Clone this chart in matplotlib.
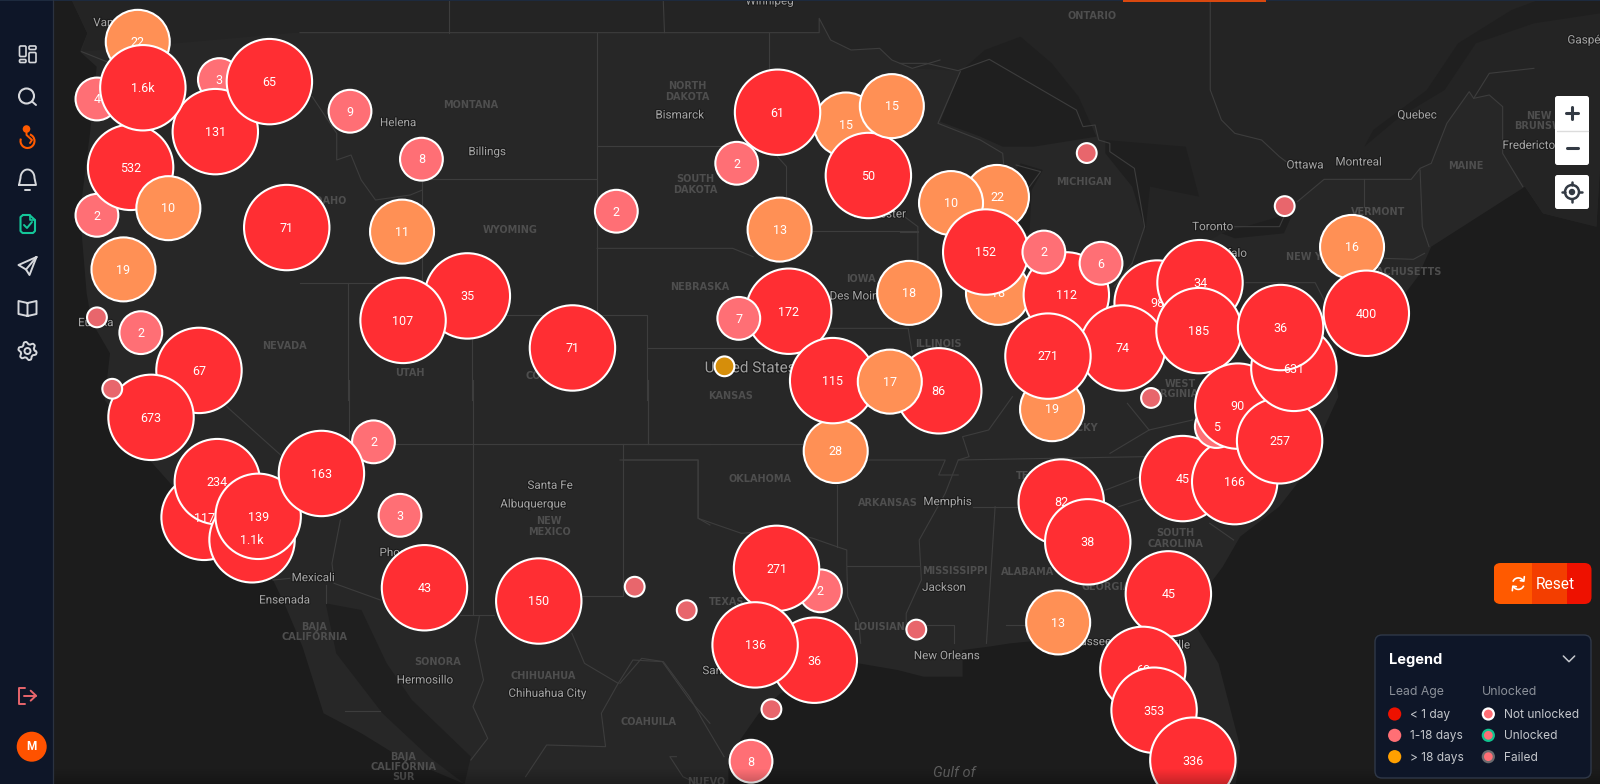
import numpy as np
import matplotlib
matplotlib.use("Agg")
import matplotlib.pyplot as plt
from matplotlib.patches import Circle, Polygon, Rectangle, FancyBboxPatch, Arc
import matplotlib.patheffects as pe

W, H = 1600, 784
S = 1600 / 1568

# ---------- cluster data, bottom to top (x, y are map positions on the reference screen) ----------
cluster_counts = [
    "22","4","3","2","532","10","131","1.6k","65","19","71","9","8","11","35","107","71",
    "","2","67","673","","2","117","234","1.1k","139","163","3","43","150","2",
    "2","15","61","50","15","13","172","7","18","28","86","115","17","",
    "18","22","10","112","152","2","6","19","98","34","74","271","185",
    "45","166","5","90","257","631","36","16","400",
    "82","38","13","45","60","353","336","8",
    "2","36","271","136","","","","","","","",
]
cluster_x = [
    135,95,215,95,128,165,211,140,264,121,281,343,413,394,458,395,561,
    95,138,195,148,110,366,200,213,247,253,315,392,416,528,604,
    722,829,762,851,874,764,773,724,891,819,920,816,872,710,
    978,977,932,1045,966,1023,1079,1031,1134,1176,1100,1027,1175,
    1159,1210,1192,1213,1254,1268,1255,1325,1339,
    1040,1066,1037,1145,1120,1131,1169,736,
    804,798,761,740,622,673,898,756,1065,1259,1128,
]
cluster_y = [
    41,97,78,211,164,204,129,86,80,264,223,109,156,227,290,314,341,
    311,326,363,409,381,433,507,472,529,506,464,505,576,589,207,
    160,122,110,172,104,225,305,312,287,442,383,373,374,359,
    287,193,199,289,247,247,258,401,297,277,341,349,324,
    469,472,418,398,432,361,321,242,307,
    492,531,610,582,656,696,745,746,
    579,647,557,632,575,598,617,695,150,202,390,
]
cluster_age = [
    "o","p","p","p","r","o","r","r","r","o","r","p","p","o","r","r","r",
    "t","p","r","r","t","p","r","r","r","r","r","p","r","r","p",
    "p","o","r","r","o","o","r","p","o","o","r","r","o","g",
    "o","o","o","r","r","p","p","o","r","r","r","r","r",
    "r","r","p","r","r","r","r","o","r",
    "r","r","o","r","r","r","r","p",
    "p","r","r","r","t","t","t","t","t","t","t",
]
# labels the reference paints above the next disc in the stack
lifted_labels = ["5", "117", "1.1k", "631"]
age_names = ["< 1 day", "1-18 days", "> 18 days"]
unlock_names = ["Not unlocked", "Unlocked", "Failed"]

AGE_STYLE = {
    "r": ("#ff2e33", 42.7),
    "o": ("#ff9055", 32.0),
    "p": ("#ff6f75", 21.4),
    "t": ("#e8666c", 9.9),
    "g": ("#d68e0a", 9.9),
}

FRAMES = {
    "z2": (0, 0, 3.0), "z3": (1000, 230, 3.0), "z4": (300, 0, 2.45), "z5": (900, 0, 2.24),
    "z6": (50, 380, 2.376), "z7": (620, 380, 2.306), "o": (0, 0, 1 / S),
}
def Z(frame, pts):
    ox, oy, sx = FRAMES[frame]
    sy = 3.0 if frame != "o" else 1 / S
    return [(ox + x / sx, oy + y / sy) for x, y in pts]

LAND = "#272727"; CANADA = "#242424"; WATER = "#1c1c1c"; LAKE = "#1f1f1f"; LINE = "#3d3d3d"; SIDE = "#0e1628"

fig = plt.figure(figsize=(W / 100, H / 100), dpi=100, facecolor=WATER)
ax = fig.add_axes([0, 0, 1, 1])
ax.set_xlim(0, W); ax.set_ylim(H, 0); ax.axis("off")

# ---------- map base ----------
land = (Z("z2", [(215,0),(262,100),(240,155),(290,200),(270,400),(240,640),(260,880),(275,965),(330,1060)])
        + Z("z6", [(130,60),(240,245),(300,330),(380,480),(530,600),(560,680),(600,800),(650,1000),(740,1060),(830,1130),(985,1212)])
        + Z("z7", [(250,1212),(250,1130),(320,1000),(370,940),(480,880),(550,850),(640,870),(700,890),(790,890),(790,810),(850,800),(900,790),(1060,770),(1110,800),(1130,900),(1210,1080),(1320,1212),(1420,1212),(1430,1100),(1380,850),(1310,700),(1390,560),(1430,470),(1520,380),(1568,300)])
        + Z("z3", [(1015,500),(1000,400),(1015,350),(1080,370)])
        + Z("z5", [(1160,830),(1190,740),(1260,680),(1400,560),(1440,640),(1560,680),(1568,500)])
        + [(1600, 180), (1600, 0)])
ax.add_patch(Polygon(land, closed=True, fc=LAND, ec="none", zorder=1))

canada = (Z("z2", [(215,0),(262,100),(245,155)]) + Z("z4", [(-10,98),(1272,98),(1272,55),(1300,120),(1350,150),(1420,145),(1450,180),(1500,205)])
          + Z("z5", [(130,212),(200,178),(395,330),(410,380),(437,375),(445,420),(470,430),(470,455),(525,505),(548,680),(520,790),(600,800),(720,700),(850,680),(890,605),(950,538),(1145,538),(1165,505),(1190,490),(1225,370),(1275,275),(1285,295),(1320,285),(1350,320),(1350,460),(1400,560),(1440,640),(1560,680),(1568,500)])
          + [(1600, 180), (1600, 0)])
ax.add_patch(Polygon(canada, closed=True, fc=CANADA, ec="none", zorder=1.05))

water_polys = [
    Z("z5", [(90,365),(135,215),(190,150),(270,110),(340,190),(400,290),(440,410),(300,440),(230,440),(180,410)]),
    Z("z5", [(270,490),(320,510),(295,570),(290,700),(240,700),(232,560)]),
    Z("z5", [(460,420),(640,440),(670,590),(560,560),(550,690),(520,560),(460,460)]),
    Z("z5", [(720,700),(850,650),(880,640),(860,700),(750,715)]),
    Z("z5", [(1568,40),(1420,70),(1290,130),(1220,270),(1120,350),(1040,440),(1060,390),(1180,270),(1250,130),(1370,30),(1430,0),(1568,0)]),
    Z("z6", [(655,670),(740,690),(800,850),(860,960),(1000,1130),(985,1212),(900,1130),(790,1000),(680,820)]),
]
for p in water_polys:
    ax.add_patch(Polygon(p, closed=True, fc=LAKE, ec="none", zorder=1.1))

border_lines = [
    ("z4", [(0,98),(1272,98),(1272,55),(1300,120),(1350,150),(1420,145),(1450,180),(1500,205),(1568,180)]),
    ("z4", [(365,0),(365,98)]), ("z4", [(890,0),(893,98)]),
    ("z4", [(728,98),(728,945)]), ("z4", [(728,437),(1150,437)]),
    ("z4", [(1150,100),(1150,230)]), ("z4", [(1170,470),(1192,500),(1192,590)]),
    ("z4", [(300,538),(728,538)]), ("z4", [(300,538),(300,848)]), ("z4", [(0,848),(300,848)]),
    ("z4", [(420,945),(850,945),(850,1200)]), ("z4", [(422,945),(422,1200)]), ("z4", [(118,848),(118,1200)]),
    ("z4", [(728,745),(1060,745),(1110,770)]), ("z4", [(850,1045),(1250,1045)]),
    ("z4", [(30,290),(90,400),(90,480),(125,465),(150,540),(185,600),(270,585),(300,570)]),
    ("z4", [(1255,693),(1515,693)]), ("z4", [(1300,985),(1490,985),(1500,1060)]),
    ("z6", [(420,80),(548,225)]), ("z6", [(710,0),(710,192)]), ("z6", [(820,192),(1568,192)]),
    ("z6", [(1005,0),(1005,705)]), ("z6", [(975,705),(1055,705)]), ("z6", [(1362,192),(1362,648),(1265,648)]),
    ("z6", [(1420,0),(1420,192)]), ("z6", [(1362,240),(1540,240),(1540,415),(1568,435)]),
    ("z6", [(690,420),(670,550),(675,605)]), ("z6", [(530,600),(570,595)]), ("z6", [(675,610),(785,660)]),
    ("z6", [(1240,760),(1270,850),(1350,910),(1385,840),(1455,845),(1520,960),(1568,1030)]),
    ("z6", [(1020,710),(1010,780),(1030,900),(1005,980),(1040,1075),(1000,1140)]),
    ("z6", [(1350,910),(1310,1000),(1320,1100),(1180,1095),(1130,1190)]), ("z6", [(700,993),(785,993)]),
    ("z6", [(655,615),(655,670)]),
    ("z7", [(65,0),(65,193)]), ("z7", [(0,193),(420,193)]),
    ("z7", [(0,240),(180,240),(180,415),(280,460),(370,450),(445,475),(500,500),(523,510),(523,555),(525,650),(550,720),(555,790)]),
    ("z7", [(500,315),(500,500)]), ("z7", [(575,240),(750,240),(735,285),(780,285)]),
    ("z7", [(905,50),(850,150),(790,170),(805,230),(780,240),(750,340),(720,410),(690,480),(695,600),(660,700),(660,745)]),
    ("z7", [(523,557),(690,557)]), ("z7", [(700,735),(770,735),(770,790)]),
    ("z7", [(780,240),(1210,230)]), ("z7", [(815,380),(920,380)]), ("z7", [(865,380),(845,790)]),
    ("z7", [(890,735),(1040,735)]), ("z7", [(1120,330),(1200,290)]), ("z7", [(1150,380),(1210,355)]),
    ("z7", [(1360,430),(1415,480)]), ("z7", [(1170,70),(1220,150),(1320,120)]), ("z7", [(1130,220),(1220,150)]),
    ("z7", [(0,910),(50,835),(100,845),(160,950),(190,1020),(240,1130)]),
    ("z7", [(130,1130),(115,1130),(145,1190),(180,1212)]),
    ("z5", [(695,0),(695,270),(720,360),(750,400),(810,420),(850,470),(870,490)]),
    ("z5", [(0,190),(60,190),(130,212),(200,178),(395,330),(410,380),(437,375),(445,420),(470,430),(470,455),(525,505),(548,680),(520,790)]),
    ("z5", [(890,605),(950,538),(1145,538),(1165,505),(1190,490),(1225,370),(1275,275),(1285,295),(1320,285),(1350,320),(1350,460),(1395,560)]),
    ("z5", [(1285,295),(1320,220),(1420,205)]), ("z5", [(750,680),(850,680),(860,650)]),
    ("z5", [(135,215),(85,370),(180,420),(230,460),(232,490)]), ("z5", [(260,495),(315,515),(290,560)]),
    ("z5", [(1040,538),(1040,620)]), ("z5", [(1165,510),(1170,680),(1185,740)]),
    ("z5", [(1085,775),(1150,778),(1175,760)]), ("z5", [(775,848),(930,848),(950,900)]),
    ("z5", [(0,640),(40,680),(40,780)]), ("z5", [(0,695),(40,695)]), ("z5", [(520,790),(480,860)]),
    ("z2", [(245,155),(320,185)]),
]
for fr, pts in border_lines:
    xy = np.array(Z(fr, pts))
    ax.plot(xy[:, 0], xy[:, 1], color=LINE, lw=0.8, zorder=1.5, solid_joinstyle="round")

state_labels = [
    ("MONTANA","z4",417,314),("NORTH","z4",950,257),("DAKOTA","z4",950,291),("SOUTH","z4",968,536),("DAKOTA","z4",968,570),
    ("WYOMING","z4",515,690),("NEBRASKA","z4",980,862),("KANSAS","z4",1055,1188),("IOWA","z4",1375,838),
    ("IDAHO","z4",70,602),("UTAH","z4",268,1118),("NEVADA","o",279,339),("ILLINOIS","o",920,337),
    ("COLORADO","o",545,368),("MICHIGAN","z5",413,545),("ONTARIO","z5",430,47),("NEW YORK","z5",930,772),
    ("VERMONT","z5",1072,637),("MASSACHUSETTS","z5",1105,815),("MAINE","z5",1268,497),("NEW","z5",1430,348),("BRUNSWICK","z5",1450,378),
    ("WEST","z3",540,463),("VIRGINIA","z3",525,493),("KENTUCKY","z3",205,595),("TENNESSEE","z7",985,288),
    ("ARKANSAS","z7",618,370),("OKLAHOMA","z7",323,296),("TEXAS","z7",245,665),("MISSISSIPPI","z7",772,572),
    ("ALABAMA","z7",940,575),("GEORGIA","z7",1120,620),("SOUTH","z7",1280,459),("CAROLINA","z7",1280,493),("LOUISIANA","z7",605,741),
    ("NEW","z6",1186,422),("MEXICO","z6",1186,457),("BAJA","z6",628,740),("CALIFORNIA","z6",628,770),("SONORA","z6",920,845),
    ("CHIHUAHUA","z6",1173,887),("COAHUILA","z6",1423,1025),("BAJA","z6",840,1130),("CALIFORNIA","z6",840,1160),("SUR","z6",840,1191),
    ("NUEVO","z7",200,1205),
]
for t, fr, x, y in state_labels:
    (px, py), = Z(fr, [(x, y)])
    ax.text(px, py, t, ha="center", va="center", color="#4e4e4e", fontsize=7.0, weight="bold", family="DejaVu Sans", zorder=2)

city_labels = [
    ("Helena","z4",240,368),("Billings","z4",458,455),("Bismarck","z4",930,345),("Des Moines","z4",1372,888),("Rochester","z4",1420,642),
    ("Toronto","z5",700,680),("Ottawa","z5",907,495),("Montreal","z5",1027,486),("Quebec","z5",1158,345),("Fredericton","z5",1415,436),
    ("Gaspé","z5",1532,120),("Buffalo","z5",735,760),("Memphis","z7",755,365),("Jackson","z7",747,622),("New Orleans","z7",753,827),
    ("Santa Fe","z6",1188,316),("Albuquerque","z6",1147,372),("Phoenix","z6",832,518),("Mexicali","z6",625,593),("Ensenada","z6",557,660),
    ("Hermosillo","z6",890,900),("Chihuahua City","z6",1181,940),("San Antonio","z7",262,872),("Tallahassee","z7",1060,785),
    ("Jacksonville","z7",1240,795),("Eureka","z2",287,968),("Vancouver","z2",362,68),("Winnipeg","z4",1150,3),
]
halo = [pe.withStroke(linewidth=1.5, foreground="#1a1a1a")]
BODY = "Roboto"
for t, fr, x, y in city_labels:
    (px, py), = Z(fr, [(x, y)])
    ax.text(px, py, t, ha="center", va="center", color="#a6a6a6", fontsize=8.4, family=BODY, zorder=2, path_effects=halo)
(px, py), = Z("o", [(735, 361)])
ax.text(px, py, "United States", ha="center", va="center", color="#a0a0a0", fontsize=11, family=BODY, zorder=2, path_effects=halo)
(px, py), = Z("z7", [(770, 1180)])
ax.text(px, py, "Gulf of", ha="center", va="center", color="#5f5f5f", fontsize=10.5, style="italic", family=BODY, zorder=2)

# ---------- clusters ----------
BASE = 10
for i, (lab, x, y, age) in enumerate(zip(cluster_counts, cluster_x, cluster_y, cluster_age)):
    col, r = AGE_STYLE[age]
    z = BASE + i
    ax.add_patch(Circle((x * S, y * S), r, fc=col, ec="white", lw=1.5, zorder=z))
    if lab:
        tz = z + 1.5 if lab in lifted_labels else z + 0.5
        ax.text(x * S, y * S + 0.8, lab, ha="center", va="center", color="white", fontsize=9.0,
                family=BODY, zorder=tz)
TOP = BASE + len(cluster_x) + 5

# faint band at the bottom of the map
grad = np.zeros((16, 1, 4)); grad[..., 3] = np.linspace(0, 0.22, 16)[:, None]
ax.imshow(grad, extent=(53, W, H, H - 16), aspect="auto", zorder=TOP, interpolation="bilinear")
ax.set_xlim(0, W); ax.set_ylim(H, 0)

# ---------- sidebar ----------
Zs = TOP + 1
ax.add_patch(Rectangle((0, 0), 52.5, H, fc=SIDE, ec="none", zorder=Zs))
ax.plot([52.5, 52.5], [0, H], color="#2b3240", lw=0.9, zorder=Zs + 0.1)
ax.add_patch(Rectangle((0, 0), W, 1.2, fc="#1d2a3e", ec="none", zorder=Zs))
ax.add_patch(Rectangle((1123, 0), 143, 1.5, fc="#d9480f", ec="none", zorder=Zs + 0.1))

IC = "#d6d8dc"
def rrect(x, y, w, h, ec=IC, fc="none", lw=1.4, rad=1.2, z=None):
    ax.add_patch(FancyBboxPatch((x, y), w, h, boxstyle=f"round,pad=0,rounding_size={rad}",
                                ec=ec, fc=fc, lw=lw, zorder=z if z else Zs + 1))
def pl(xs, ys, c=IC, lw=1.4, z=None):
    ax.plot(xs, ys, color=c, lw=lw, zorder=z if z else Zs + 1, solid_capstyle="round", solid_joinstyle="round")

for b in [(19.5,46,6.5,10.5),(19.5,59.5,6.5,3),(29,46,7,3.5),(29,52.5,7,10)]:
    rrect(*b, lw=1.2)
ax.add_patch(Circle((26.5, 96), 7.5, fc="none", ec=IC, lw=1.5, zorder=Zs + 1)); pl([32, 36], [101.5, 105])
ax.add_patch(Circle((26.5, 129), 3.8, fc="#ff5a00", ec="none", zorder=Zs + 1))
ax.add_patch(Arc((27.5, 141), 14, 14, theta1=-70, theta2=200, ec="#ff5a00", lw=1.5, zorder=Zs + 1))
pl([26.5, 26.5, 32, 30], [132, 135, 140, 143], c="#ff5a00")
t = np.linspace(0, np.pi, 30)
pl([19] + list(27.5 - 7 * np.cos(t)) + [36, 19], [185] + list(180 - 8.5 * np.sin(t) - 2) + [185, 185])
pl([25, 30], [190, 190])
GR = "#14c79a"
pl([23, 29.5, 35, 35, 33, 22.5, 20.5, 20.5, 23], [215, 215, 220, 231, 233, 233, 231, 217, 215], c=GR, lw=1.5)
pl([29.5, 29.5, 35], [215, 220, 220], c=GR, lw=1.2)
pl([24, 27, 32], [225, 228, 222], c=GR)
pl([36.5, 18.5, 26, 29.5, 36.5], [257, 265, 269.5, 275, 257]); pl([26, 36.5], [269.5, 257])
pl([27.5, 18.5, 18.5, 27.5, 36.5, 36.5, 27.5, 27.5], [303, 301, 314, 316, 314, 301, 303, 316])
ax.add_patch(Circle((27.5, 351), 3, fc="none", ec=IC, lw=1.4, zorder=Zs + 1))
a = np.linspace(0, 2 * np.pi, 49)
gr = 8 + 1.2 * np.clip(3 * np.sin(6 * a), -1, 1)
pl(27.5 + gr * np.cos(a), 351 + gr * np.sin(a))
LOG = "#e8666c"
xy = np.array(Z("z2", [(75,83),(57,83),(57,132),(75,132)])); pl(xy[:, 0], xy[:, 1] + 660, c=LOG)
xy = np.array(Z("z2", [(72,107),(108,107)])); pl(xy[:, 0], xy[:, 1] + 660, c=LOG)
xy = np.array(Z("z2", [(92,92),(108,107),(92,122)])); pl(xy[:, 0], xy[:, 1] + 660, c=LOG)
ax.add_patch(Circle((31.7, 746.7), 15, fc="#ff5200", ec="none", zorder=Zs + 1))
ax.text(31.7, 746.9, "M", color="white", fontsize=8.5, weight="bold", ha="center", va="center", family="Roboto", zorder=Zs + 2)

# ---------- map controls ----------
rrect(1555, 96, 34, 69, ec="none", fc="white", rad=2.5)
rrect(1555, 175, 34, 34, ec="none", fc="white", rad=2.5)
pl([1557, 1588], [131, 131], c="#dcdcdc", lw=1)
D = "#333a44"
pl([1566, 1578], [113, 113], c=D, lw=2.2); pl([1572, 1572], [107, 119], c=D, lw=2.2)
pl([1567, 1578], [148, 148], c=D, lw=2.2)
ax.add_patch(Circle((1572, 192), 7, fc="none", ec=D, lw=1.8, zorder=Zs + 2))
ax.add_patch(Circle((1572, 192), 3.2, fc=D, ec="none", zorder=Zs + 2))
for dx, dy in [(0, -9), (0, 9), (-9, 0), (9, 0)]:
    pl([1572 + dx * .8, 1572 + dx * 1.1], [192 + dy * .8, 192 + dy * 1.1], c=D, lw=1.8, z=Zs + 2)

# ---------- reset button ----------
def P(x, y):
    return 1340 + x / 3, 560 + y / 3
box = FancyBboxPatch((1493.5, 563), 98, 41, boxstyle="round,pad=0,rounding_size=7", fc="none", ec="none", zorder=Zs + 1)
ax.add_patch(box)
g = np.zeros((1, 98, 3))
c0 = np.array([255, 90, 0]) / 255; c1 = np.array([243, 62, 0]) / 255; c2 = np.array([238, 17, 0]) / 255
g[0, :38] = c0; g[0, 38:73] = c1; g[0, 73:] = c2
im = ax.imshow(g, extent=(1493.5, 1591.5, 604, 563), aspect="auto", zorder=Zs + 1, interpolation="nearest")
im.set_clip_path(box)
ax.set_xlim(0, W); ax.set_ylim(H, 0)
cx, cy = P(535, 71)
ax.add_patch(Arc((cx, cy), 11.5, 11.5, theta1=200, theta2=330, ec="white", lw=1.2, zorder=Zs + 2))
ax.add_patch(Arc((cx, cy), 11.5, 11.5, theta1=20, theta2=150, ec="white", lw=1.2, zorder=Zs + 2))
pl([cx + 6, cx + 5.5, cx + 2], [cy - 7, cy - 2.5, cy - 3], c="white", lw=1.2, z=Zs + 2)
pl([cx - 6, cx - 5.5, cx - 2], [cy + 7, cy + 2.5, cy + 3], c="white", lw=1.2, z=Zs + 2)
x0, y0 = P(588, 72)
ax.text(x0, y0 + 0.5, "Reset", color="white", fontsize=11.2, va="center", ha="left", family="Roboto", zorder=Zs + 2)

# ---------- legend panel ----------
rrect(1375, 635, 216, 143, ec="#2f3848", fc=SIDE, lw=1, rad=7)
LG = Zs + 2
x0, y0 = P(146, 297)
ax.text(x0, y0 + 1, "Legend", color="white", fontsize=10.5, weight="bold", va="center", family="Inter", zorder=LG)
xy = np.array([P(670, 288), P(687, 305), P(704, 288)]); pl(xy[:, 0], xy[:, 1], c="#c4c7cc", lw=1.1, z=LG)
x0, y0 = P(146, 392)
ax.text(x0, y0 + 1, "Lead Age", color="#8b9099", fontsize=8.8, va="center", family="Inter", zorder=LG)
x0, y0 = P(427, 392)
ax.text(x0, y0 + 1, "Unlocked", color="#8b9099", fontsize=8.8, va="center", family="Inter", zorder=LG)
for nm, col, y in zip(age_names, ["#ee1100", "#ff6f75", "#ffa000"], [462, 526, 590]):
    cx, cy = P(164, y)
    ax.add_patch(Circle((cx, cy), 6.6, fc=col, ec="none", zorder=LG))
    tx, ty = P(209, y)
    ax.text(tx, ty + 1, nm, color="#c4c7cc", fontsize=8.6, va="center", family="Inter", zorder=LG)
for nm, col, y in zip(unlock_names, ["white", "#10c48f", "#6b6b6f"], [462, 526, 590]):
    cx, cy = P(445, y)
    ax.add_patch(Circle((cx, cy), 5.5, fc="#ff6f75", ec=col, lw=1.6, zorder=LG))
    tx, ty = P(491, y)
    ax.text(tx, ty + 1, nm, color="#c4c7cc", fontsize=8.6, va="center", family="Inter", zorder=LG)

fig.savefig("out.png", dpi=100, facecolor=WATER)
